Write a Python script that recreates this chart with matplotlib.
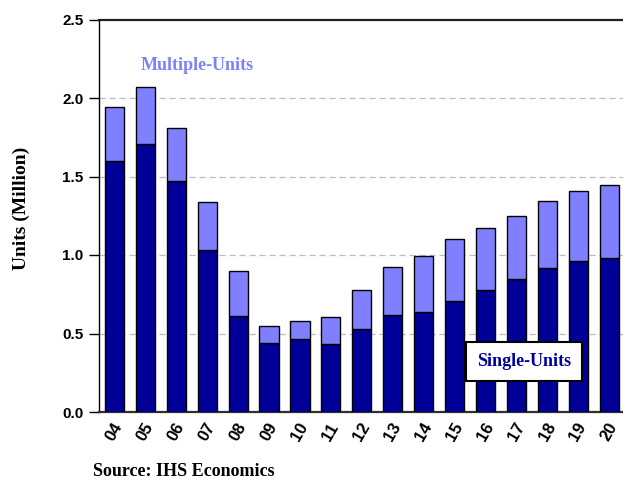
import matplotlib
matplotlib.use("Agg")
import matplotlib.pyplot as plt
import numpy as np

years = ["04", "05", "06", "07", "08", "09", "10", "11", "12",
         "13", "14", "15", "16", "17", "18", "19", "20"]
single_units = [1.60, 1.71, 1.47, 1.03, 0.61, 0.44, 0.465, 0.43, 0.53,
                0.615, 0.64, 0.705, 0.78, 0.85, 0.92, 0.96, 0.98]
multiple_units = [0.34, 0.36, 0.34, 0.31, 0.29, 0.11, 0.115, 0.175, 0.25,
                  0.31, 0.355, 0.395, 0.39, 0.40, 0.425, 0.445, 0.465]
y_ticks = [0.0, 0.5, 1.0, 1.5, 2.0, 2.5]

dark_blue = "#000099"
light_blue = "#8080FF"
serif = "Liberation Serif"
sans = "Liberation Sans"

fig = plt.figure(figsize=(6.23, 4.83), dpi=100)
ax = fig.add_axes([99 / 623, 1 - 412 / 483, 1 - 99 / 623, (412 - 19.5) / 483])

x = np.arange(len(years))
ax.bar(x, single_units, width=0.62, color=dark_blue, edgecolor="black",
       linewidth=1.0, zorder=3)
ax.bar(x, multiple_units, width=0.62, bottom=single_units, color=light_blue,
       edgecolor="black", linewidth=1.0, zorder=3)

ax.set_xlim(-0.5, 16.45)
ax.set_ylim(0, 2.5)
ax.set_yticks(y_ticks)
ax.set_yticklabels([f"{v:.1f}" for v in y_ticks], fontfamily=sans,
                   fontweight="bold", fontsize=11)
ax.set_xticks(x)
ax.set_xticklabels(years, fontfamily=sans, fontweight="bold", fontsize=12,
                   rotation=60, ha="center", va="top")
ax.tick_params(axis="y", direction="out", length=7, width=1, pad=4)
ax.tick_params(axis="x", length=0, pad=6)

for v in y_ticks[1:-1]:
    ax.axhline(v, color="#bdbdbd", linewidth=0.9, linestyle=(0, (5, 3)),
               zorder=1)

ax.spines["right"].set_visible(False)
ax.spines["top"].set_linewidth(1.6)
ax.spines["top"].set_color("#202020")
ax.spines["bottom"].set_linewidth(1.6)
ax.spines["bottom"].set_color("#303030")
ax.spines["left"].set_linewidth(1.0)
ax.spines["left"].set_color("black")

ax.set_ylabel("Units (Million)", fontfamily=serif, fontweight="bold",
              fontsize=14)
ax.yaxis.set_label_coords(-(99 - 30) / 524, (412 - 208) / 392.5)

ax.text(2.68, 2.21, "Multiple-Units", color=light_blue, fontfamily=serif,
        fontweight="bold", fontsize=13, ha="center", va="center", zorder=5)
ax.text(13.24, 0.321, "Single-Units", color=dark_blue, fontfamily=serif,
        fontweight="bold", fontsize=13, ha="center", va="center", zorder=5,
        bbox=dict(boxstyle="square,pad=0.6", facecolor="white",
                  edgecolor="black", linewidth=1.5))

fig.text(93 / 623, 1 - 472 / 483, "Source: IHS Economics", fontfamily=serif,
         fontweight="bold", fontsize=13, ha="left", va="center")

fig.savefig("out.png", dpi=100)
